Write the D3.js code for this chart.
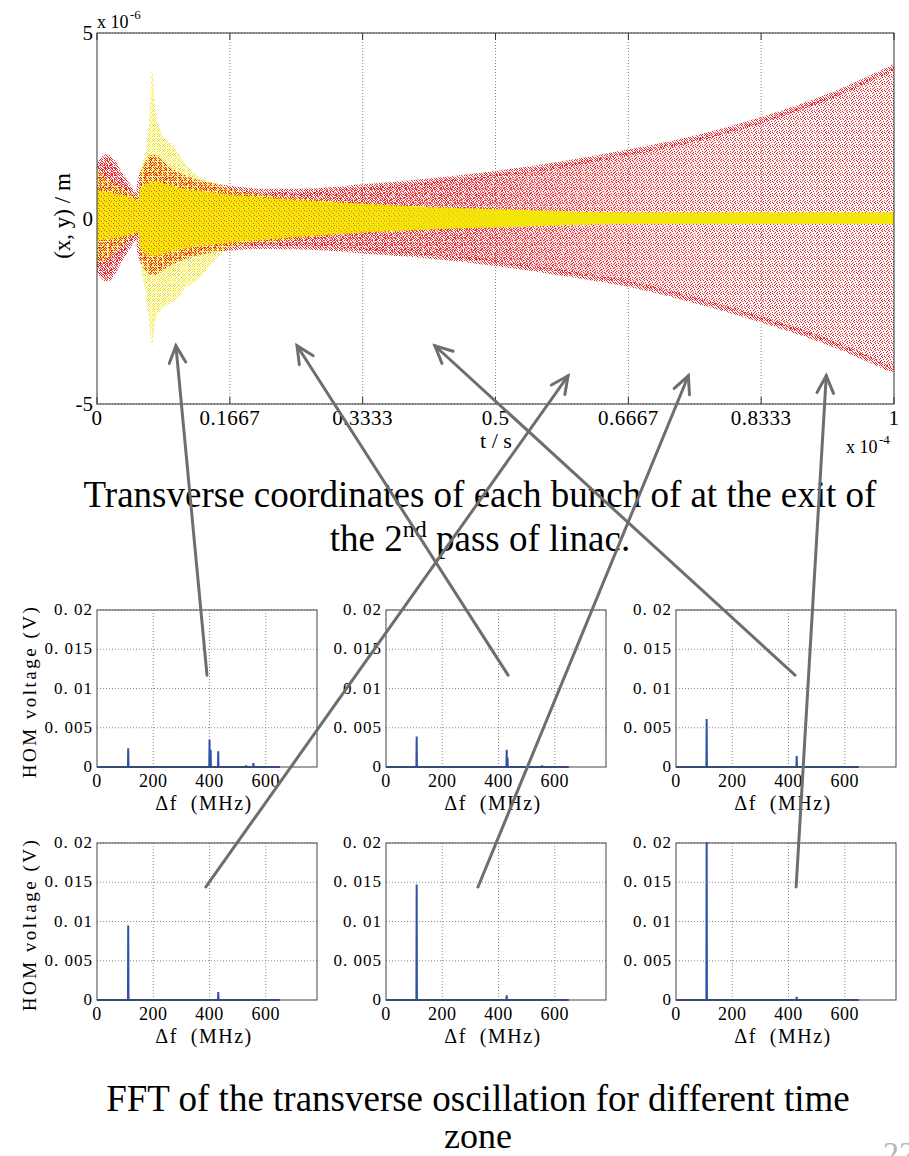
<!DOCTYPE html>
<html><head><meta charset="utf-8">
<script src="https://cdn.jsdelivr.net/npm/d3@7"></script>
<style>
body{margin:0;background:#fff}
svg{display:block}
</style>
</head><body>
<svg id="c" width="909" height="1156" font-family="Liberation Serif, Tinos, Times New Roman, DejaVu Serif, serif"></svg>
<script>
// ---------- top chart data (t in 1e-4 s, position in 1e-6 m) ----------
const timeTicks = [0, 0.1667, 0.3333, 0.5, 0.6667, 0.8333, 1];
const timeTickLabels = ["0", "0.1667", "0.3333", "0.5", "0.6667", "0.8333", "1"];
const posTicks = [-5, 0, 5];
const posTickLabels = ["-5", "0", "5"];

// envelope of the red cloud
const redT     = [0, 0.006, 0.012, 0.03, 0.053, 0.054, 0.062, 0.07, 0.09, 0.12, 0.1667, 0.21, 0.25, 0.3333, 0.4167, 0.5, 0.58, 0.6667, 0.75, 0.8333, 0.92, 1];
const redUpper = [1.35, 1.55, 1.65, 1.15, 0.55, 0.95, 1.4, 1.65, 1.3, 1.0, 0.8, 0.72, 0.72, 0.84, 1.0, 1.2, 1.45, 1.78, 2.15, 2.65, 3.3, 4.08];
const redLower = [-1.3, -1.5, -1.62, -1.05, -0.42, -0.9, -1.3, -1.45, -1.2, -0.95, -0.78, -0.74, -0.75, -0.86, -1.0, -1.2, -1.45, -1.76, -2.2, -2.72, -3.35, -4.1];

// envelope of the yellow cloud (sparse outer part)
const yelT     = [0, 0.012, 0.03, 0.053, 0.054, 0.062, 0.066, 0.069, 0.073, 0.079, 0.098, 0.11, 0.129, 0.148, 0.1667, 0.21, 0.25, 0.3333, 0.4167, 0.5, 0.6667, 0.8333, 1];
const yelUpper = [1.35, 1.1, 0.85, 0.6, 1.2, 1.9, 2.8, 4.0, 3.0, 2.4, 1.9, 1.5, 1.1, 0.95, 0.8, 0.65, 0.55, 0.42, 0.32, 0.25, 0.16, 0.16, 0.16];
const yelLower = [-1.2, -1.1, -0.75, -0.4, -1.05, -2.1, -2.9, -3.45, -2.8, -2.5, -2.2, -1.9, -1.6, -1.1, -0.78, -0.65, -0.55, -0.4, -0.3, -0.24, -0.15, -0.15, -0.15];

// dense yellow core
const coreT     = [0, 0.03, 0.053, 0.054, 0.07, 0.1, 0.1667, 0.25, 0.3333, 0.4167, 0.5, 0.6667, 0.8333, 1];
const coreUpper = [0.75, 0.65, 0.5, 0.8, 1.0, 0.85, 0.65, 0.5, 0.4, 0.3, 0.25, 0.16, 0.16, 0.16];
const coreLower = [-0.6, -0.5, -0.38, -0.8, -1.0, -0.85, -0.65, -0.5, -0.38, -0.29, -0.24, -0.15, -0.15, -0.15];

// ---------- FFT panel data (MHz, V) ----------
const freqTicks = [0, 200, 400, 600];
const voltTicks = [0, 0.005, 0.01, 0.015, 0.02];
const voltTickLabels = ["0", "0. 005", "0. 01", "0. 015", "0. 02"];
const fftEnd = 650;
const peakFreq1 = [111, 400, 404, 431, 530, 556];
const peakAmp1  = [0.0024, 0.0035, 0.0022, 0.0020, 0.0002, 0.0005];
const peakFreq2 = [109, 429, 432, 555];
const peakAmp2  = [0.0039, 0.0022, 0.0012, 0.0002];
const peakFreq3 = [109, 429];
const peakAmp3  = [0.0061, 0.0014];
const peakFreq4 = [111, 431];
const peakAmp4  = [0.0095, 0.0010];
const peakFreq5 = [109, 429];
const peakAmp5  = [0.0147, 0.0006];
const peakFreq6 = [109, 429];
const peakAmp6  = [0.0215, 0.0004];

// arrows: from (f, V) in panel k to (t, pos) in top chart
const arrowPanel = [0, 1, 2, 3, 4, 5];
const arrowF = [391, 434, 423, 387, 327, 427];
const arrowV = [0.0117, 0.0117, 0.0117, 0.0144, 0.0144, 0.0144];
const arrowT = [0.099, 0.251, 0.424, 0.591, 0.742, 0.915];
const arrowP = [-3.43, -3.43, -3.43, -4.24, -4.24, -4.24];

const svg = d3.select("#c");
const defs = svg.append("defs");

// ---------- stipple patterns (texture only) ----------
function pixPattern(id, size, pts, color) {
  const p = defs.append("pattern").attr("id", id).attr("patternUnits", "userSpaceOnUse")
    .attr("width", size).attr("height", size);
  pts.forEach(([x, y]) => p.append("rect").attr("x", x).attr("y", y).attr("width", 1).attr("height", 1).attr("fill", color));
}
const RED = "#f0262c", YEL = "#f2e60a";
pixPattern("redStipple", 7, [[0,0],[3,0],[5,1],[1,2],[4,2],[6,3],[2,4],[0,5],[4,5],[6,6],[2,6],[5,4]], RED);
pixPattern("redDense", 5, [[1,0],[4,0],[2,1],[0,2],[3,2],[1,3],[4,3],[2,4],[0,4]], RED);
pixPattern("yelSparse", 5, [[0,0],[3,0],[2,1],[4,1],[1,2],[3,3],[0,3],[2,4],[4,4]], YEL);
pixPattern("redSpeck", 5, [[1,1],[3,3],[4,0]], RED);

function hGrad(id, stops) {
  const g = defs.append("linearGradient").attr("id", id).attr("gradientUnits", "userSpaceOnUse")
    .attr("x1", 97).attr("x2", 894).attr("y1", 0).attr("y2", 0);
  stops.forEach(([o, v]) => g.append("stop").attr("offset", o).attr("stop-color", "white").attr("stop-opacity", v));
}
hGrad("gDense", [[0, 1], [0.45, 0.85], [0.7, 0.2], [0.85, 0]]);
hGrad("gSpeck", [[0, 1], [0.3, 0.8], [0.5, 0.1], [0.55, 0]]);
["Dense", "Speck"].forEach(n => defs.append("mask").attr("id", "m" + n).attr("maskUnits", "userSpaceOnUse")
  .attr("x", 0).attr("y", 0).attr("width", 909).attr("height", 500)
  .append("rect").attr("x", 0).attr("y", 0).attr("width", 909).attr("height", 500).attr("fill", `url(#g${n})`));

// ---------- top chart ----------
const T = {x0: 97, x1: 894, y0: 33, y1: 404};
const xs = d3.scaleLinear().domain([0, 1]).range([T.x0, T.x1]);
const ys = d3.scaleLinear().domain([-5, 5]).range([T.y1, T.y0]);
defs.append("clipPath").attr("id", "clipTop").append("rect")
  .attr("x", T.x0).attr("y", T.y0).attr("width", T.x1 - T.x0).attr("height", T.y1 - T.y0);

const topG = svg.append("g");
topG.append("g").selectAll("line").data(timeTicks.slice(1, -1)).join("line")
  .attr("x1", d => xs(d)).attr("x2", d => xs(d)).attr("y1", T.y0).attr("y2", T.y1)
  .attr("stroke", "#888").attr("stroke-width", 1).attr("stroke-dasharray", "1,2");
topG.append("g").selectAll("line").data(posTicks).join("line")
  .attr("y1", d => ys(d)).attr("y2", d => ys(d)).attr("x1", T.x0).attr("x2", T.x1)
  .attr("stroke", "#888").attr("stroke-width", 1).attr("stroke-dasharray", "1,2");

const dataG = topG.append("g").attr("clip-path", "url(#clipTop)");
function band(tArr, up, lo) {
  return d3.area().x((d, i) => xs(tArr[i])).y0((d, i) => ys(lo[i])).y1((d, i) => ys(up[i])).curve(d3.curveMonotoneX)(tArr);
}
const redPath = band(redT, redUpper, redLower);
dataG.append("path").attr("d", redPath).attr("fill", "url(#redStipple)");
dataG.append("path").attr("d", redPath).attr("fill", "url(#redDense)").attr("mask", "url(#mDense)");
const edge = (arr) => d3.line().x((d, i) => xs(redT[i])).y((d, i) => ys(arr[i])).curve(d3.curveMonotoneX)(redT);
dataG.append("path").attr("d", edge(redUpper)).attr("fill", "none").attr("stroke", "url(#redDense)").attr("stroke-width", 6);
dataG.append("path").attr("d", edge(redLower)).attr("fill", "none").attr("stroke", "url(#redDense)").attr("stroke-width", 6);
dataG.append("path").attr("d", band(yelT, yelUpper, yelLower)).attr("fill", "url(#yelSparse)");
const corePath = band(coreT, coreUpper, coreLower);
dataG.append("path").attr("d", corePath).attr("fill", YEL);
dataG.append("path").attr("d", corePath).attr("fill", "url(#redSpeck)").attr("mask", "url(#mSpeck)").attr("opacity", 0.8);

topG.append("rect").attr("x", T.x0).attr("y", T.y0).attr("width", T.x1 - T.x0).attr("height", T.y1 - T.y0)
  .attr("fill", "none").attr("stroke", "#333").attr("stroke-width", 1);
topG.append("g").selectAll("line").data(timeTicks).join("line")
  .attr("x1", d => xs(d)).attr("x2", d => xs(d)).attr("y1", T.y1).attr("y2", T.y1 - 7).attr("stroke", "#333");
topG.append("g").selectAll("line").data(timeTicks).join("line")
  .attr("x1", d => xs(d)).attr("x2", d => xs(d)).attr("y1", T.y0).attr("y2", T.y0 + 7).attr("stroke", "#333");
topG.append("g").selectAll("text").data(timeTicks).join("text")
  .attr("x", d => xs(d)).attr("y", 425).attr("text-anchor", "middle")
  .attr("font-size", 21).attr("letter-spacing", 0.5)
  .text((d, i) => timeTickLabels[i]);
topG.append("g").selectAll("text").data(posTicks).join("text")
  .attr("x", 93).attr("y", d => ys(d) + 7).attr("text-anchor", "end")
  .attr("font-size", 21).text((d, i) => posTickLabels[i]);
topG.append("text").attr("x", 97).attr("y", 28).attr("font-size", 18).text("x 10");
topG.append("text").attr("x", 130).attr("y", 19).attr("font-size", 13).text("-6");
topG.append("text").attr("x", 846).attr("y", 453).attr("font-size", 18).text("x 10");
topG.append("text").attr("x", 879).attr("y", 444).attr("font-size", 13).text("-4");
topG.append("text").attr("x", 496).attr("y", 448).attr("text-anchor", "middle").attr("font-size", 22).text("t / s");
topG.append("text").attr("transform", "translate(70,216) rotate(-90)").attr("text-anchor", "middle")
  .attr("font-size", 23).text("(x, y) / m");

// ---------- captions ----------
svg.append("text").attr("x", 480).attr("y", 507).attr("text-anchor", "middle").attr("font-size", 37)
  .text("Transverse coordinates of each bunch of at the exit of");
const c2 = svg.append("text").attr("x", 480).attr("y", 551).attr("text-anchor", "middle").attr("font-size", 37);
c2.append("tspan").text("the 2");
c2.append("tspan").attr("dy", -14).attr("font-size", 24).text("nd");
c2.append("tspan").attr("dy", 14).text(" pass of linac.");
svg.append("text").attr("x", 478).attr("y", 1111).attr("text-anchor", "middle").attr("font-size", 37)
  .text("FFT of the transverse oscillation for different time");
svg.append("text").attr("x", 478).attr("y", 1148).attr("text-anchor", "middle").attr("font-size", 36).text("zone");
svg.append("text").attr("x", 883).attr("y", 1164).attr("font-size", 32).attr("fill", "#b5b5b5").text("22");

// ---------- FFT panels ----------
const panelX = [97, 386, 676];
const panelY = [610, 843];
const PW = 220, PH = 157;
const peaks = [[peakFreq1, peakAmp1], [peakFreq2, peakAmp2], [peakFreq3, peakAmp3],
               [peakFreq4, peakAmp4], [peakFreq5, peakAmp5], [peakFreq6, peakAmp6]];
const panels = [];
peaks.forEach(([pf, pa], k) => {
  const x0 = panelX[k % 3], y0 = panelY[Math.floor(k / 3)];
  const fx = d3.scaleLinear().domain([0, 782]).range([x0, x0 + PW]);
  const fy = d3.scaleLinear().domain([0, 0.02]).range([y0 + PH, y0]);
  panels.push({fx, fy});
  const g = svg.append("g");
  defs.append("clipPath").attr("id", "cp" + k).append("rect").attr("x", x0).attr("y", y0 - 1).attr("width", PW).attr("height", PH + 2);
  g.append("g").selectAll("line").data(freqTicks.slice(1)).join("line")
    .attr("x1", d => fx(d)).attr("x2", d => fx(d)).attr("y1", y0).attr("y2", y0 + PH)
    .attr("stroke", "#8a8a8a").attr("stroke-dasharray", "1,2");
  g.append("g").selectAll("line").data(voltTicks.slice(1)).join("line")
    .attr("y1", d => fy(d)).attr("y2", d => fy(d)).attr("x1", x0).attr("x2", x0 + PW)
    .attr("stroke", "#8a8a8a").attr("stroke-dasharray", "1,2");
  const pts = [[0, 0]];
  pf.forEach((f, i) => { pts.push([f - 1, 0], [f, pa[i]], [f + 1, 0]); });
  pts.push([fftEnd, 0]);
  g.append("path").attr("clip-path", "url(#cp" + k + ")")
    .attr("d", d3.line().x(d => fx(d[0])).y(d => fy(d[1]))(pts))
    .attr("fill", "none").attr("stroke", "#2f52a6").attr("stroke-width", 2);
  g.append("rect").attr("x", x0).attr("y", y0).attr("width", PW).attr("height", PH)
    .attr("fill", "none").attr("stroke", "#444").attr("stroke-width", 1);
  g.append("g").selectAll("text").data(freqTicks).join("text")
    .attr("x", d => fx(d)).attr("y", y0 + PH + 20).attr("text-anchor", "middle")
    .attr("font-size", 18).attr("letter-spacing", 0.5).text(d => d);
  g.append("g").selectAll("text").data(voltTicks).join("text")
    .attr("x", x0 - 4).attr("y", d => fy(d) + 5).attr("text-anchor", "end")
    .attr("font-size", 17).attr("letter-spacing", 1).style("white-space", "pre")
    .text((d, i) => voltTickLabels[i]);
  g.append("text").attr("x", x0 + PW / 2 - 3).attr("y", y0 + PH + 43).attr("text-anchor", "middle")
    .attr("font-size", 20).attr("letter-spacing", 1.5).style("white-space", "pre").text("Δf  (MHz)");
  if (k % 3 === 0) {
    g.append("text").attr("transform", `translate(36,${y0 + PH / 2 + 3}) rotate(-90)`).attr("text-anchor", "middle")
      .attr("font-size", 19).attr("letter-spacing", 2.5).style("white-space", "pre").text("HOM voltage (V)");
  }
});

// ---------- arrows ----------
const ag = svg.append("g").attr("stroke", "#6e6e6e").attr("stroke-width", 3).attr("fill", "none").attr("stroke-linecap", "round");
arrowPanel.forEach((k, i) => {
  const p = panels[k];
  const sx = p.fx(arrowF[i]), sy = p.fy(arrowV[i]);
  const ex = xs(arrowT[i]), ey = ys(arrowP[i]);
  ag.append("line").attr("x1", sx).attr("y1", sy).attr("x2", ex).attr("y2", ey);
  const ang = Math.atan2(sy - ey, sx - ex), L = 19, a = 0.45;
  ag.append("path").attr("d", `M${ex + L * Math.cos(ang - a)},${ey + L * Math.sin(ang - a)}L${ex},${ey}L${ex + L * Math.cos(ang + a)},${ey + L * Math.sin(ang + a)}`)
    .attr("stroke-linejoin", "miter");
});
</script>
</body></html>
